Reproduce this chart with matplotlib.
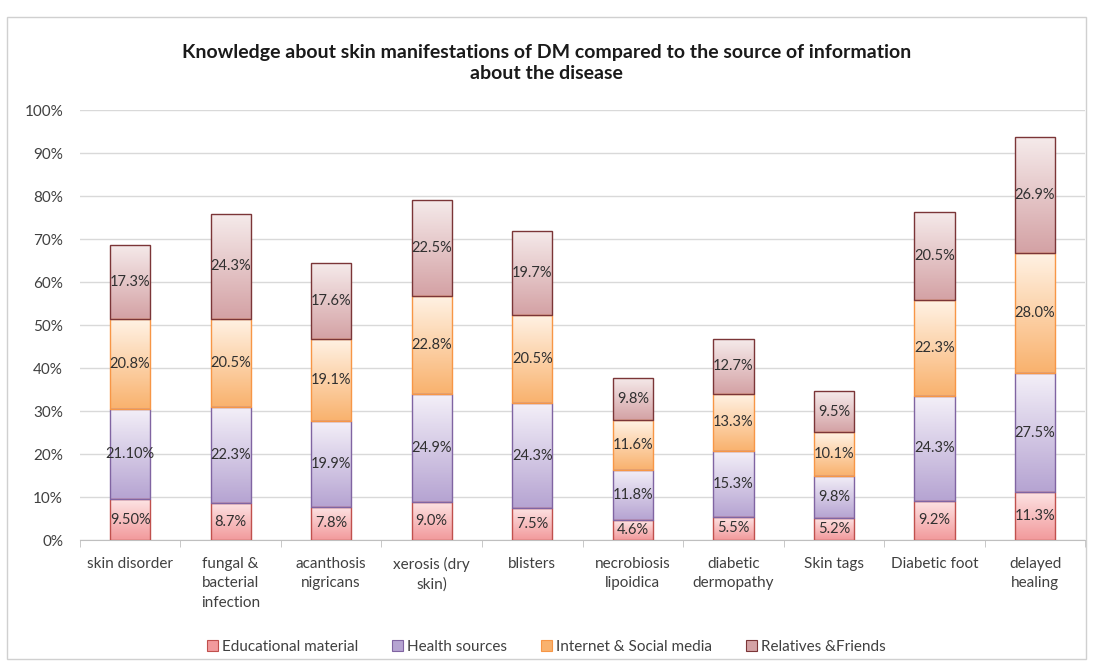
import matplotlib.pyplot as plt
import numpy as np
from matplotlib.colors import LinearSegmentedColormap
from matplotlib.patches import Patch, Rectangle
from matplotlib.ticker import FuncFormatter, FixedLocator

plt.rcParams['font.family'] = ['Lato', 'DejaVu Sans']

categories = ["skin disorder", "fungal &\nbacterial\ninfection", "acanthosis\nnigricans",
              "xerosis (dry\nskin)", "blisters", "necrobiosis\nlipoidica", "diabetic\ndermopathy",
              "Skin tags", "Diabetic foot", "delayed\nhealing"]
series = ["Educational material", "Health sources", "Internet & Social media", "Relatives &Friends"]
educational = [9.5, 8.7, 7.8, 9.0, 7.5, 4.6, 5.5, 5.2, 9.2, 11.3]
health = [21.1, 22.3, 19.9, 24.9, 24.3, 11.8, 15.3, 9.8, 24.3, 27.5]
internet = [20.8, 20.5, 19.1, 22.8, 20.5, 11.6, 13.3, 10.1, 22.3, 28.0]
relatives = [17.3, 24.3, 17.6, 22.5, 19.7, 9.8, 12.7, 9.5, 20.5, 26.9]
edu_labels = ["9.50%", "8.7%", "7.8%", "9.0%", "7.5%", "4.6%", "5.5%", "5.2%", "9.2%", "11.3%"]
health_labels = ["21.10%", "22.3%", "19.9%", "24.9%", "24.3%", "11.8%", "15.3%", "9.8%", "24.3%", "27.5%"]
internet_labels = ["20.8%", "20.5%", "19.1%", "22.8%", "20.5%", "11.6%", "13.3%", "10.1%", "22.3%", "28.0%"]
relatives_labels = ["17.3%", "24.3%", "17.6%", "22.5%", "19.7%", "9.8%", "12.7%", "9.5%", "20.5%", "26.9%"]

# (top colour, bottom colour, edge colour)
styles = [("#fde4e4", "#f29a9c", "#c0504d"),
          ("#f3eff8", "#b6a4d2", "#8064a2"),
          ("#fff2e4", "#f9b26e", "#f79646"),
          ("#f5eaea", "#d4a2a5", "#7b3537")]

fig = plt.figure(figsize=(10.93, 6.67), dpi=100)
ax = fig.add_axes([0.073, 0.19, 0.92, 0.645])

fig.patches.append(Rectangle((0.006, 0.012), 0.988, 0.962, transform=fig.transFigure,
                             fill=False, edgecolor="#d0d0d0", linewidth=1.0))

x = np.arange(len(categories))
width = 0.4
bottom = np.zeros(len(categories))
grad = np.linspace(0, 1, 64).reshape(-1, 1)
all_vals = [educational, health, internet, relatives]
all_labels = [edu_labels, health_labels, internet_labels, relatives_labels]

for vals, labs, (ctop, cbot, cedge) in zip(all_vals, all_labels, styles):
    cmap = LinearSegmentedColormap.from_list("g", [cbot, ctop])
    bars = ax.bar(x, vals, width, bottom=bottom, facecolor="none", edgecolor=cedge,
                  linewidth=1.0, zorder=3)
    for b in bars:
        x0, y0 = b.get_x(), b.get_y()
        im = ax.imshow(grad, cmap=cmap, origin="lower", aspect="auto",
                       extent=[x0, x0 + b.get_width(), y0, y0 + b.get_height()], zorder=2)
        im.set_clip_path(b)
    for xi, bi, v, lab in zip(x, bottom, vals, labs):
        ax.text(xi, bi + v / 2, lab, ha="center", va="center", fontsize=10.5,
                color="#303030", zorder=4)
    bottom += np.array(vals)

ax.set_xlim(-0.5, len(categories) - 0.5)
ax.set_ylim(0, 100)
ax.set_yticks(np.arange(0, 101, 10))
ax.yaxis.set_major_formatter(FuncFormatter(lambda v, p: f"{v:.0f}%"))
ax.grid(axis="y", color="#d9d9d9", linewidth=1.0, zorder=0)
ax.set_axisbelow(True)
ax.tick_params(axis="y", length=0, labelsize=11, colors="#404040", pad=12)

ax.set_xticks(x)
ax.set_xticklabels(categories, fontsize=11, color="#404040", linespacing=1.5, va="top")
ax.tick_params(axis="x", length=0, pad=12)
ax.xaxis.set_minor_locator(FixedLocator(np.arange(-0.5, len(categories), 1.0)))
ax.tick_params(axis="x", which="minor", length=5, color="#bfbfbf")
for s in ["top", "right", "left"]:
    ax.spines[s].set_visible(False)
ax.spines["bottom"].set_color("#bfbfbf")

fig.text(0.5, 0.905, "Knowledge about skin manifestations of DM compared to the source of information\nabout the disease",
         ha="center", va="center", fontsize=14, fontweight="bold", color="#1a1a1a", linespacing=1.3)

handles = [Patch(facecolor=s[1], edgecolor=s[2], linewidth=0.8) for s in styles]
fig.legend(handles, series, loc="center", bbox_to_anchor=(0.5, 0.03), ncol=4, frameon=False,
           fontsize=11, handlelength=0.7, handleheight=0.7, handletextpad=0.3, columnspacing=2.2,
           labelcolor="#404040")

fig.savefig("out.png", dpi=100)
